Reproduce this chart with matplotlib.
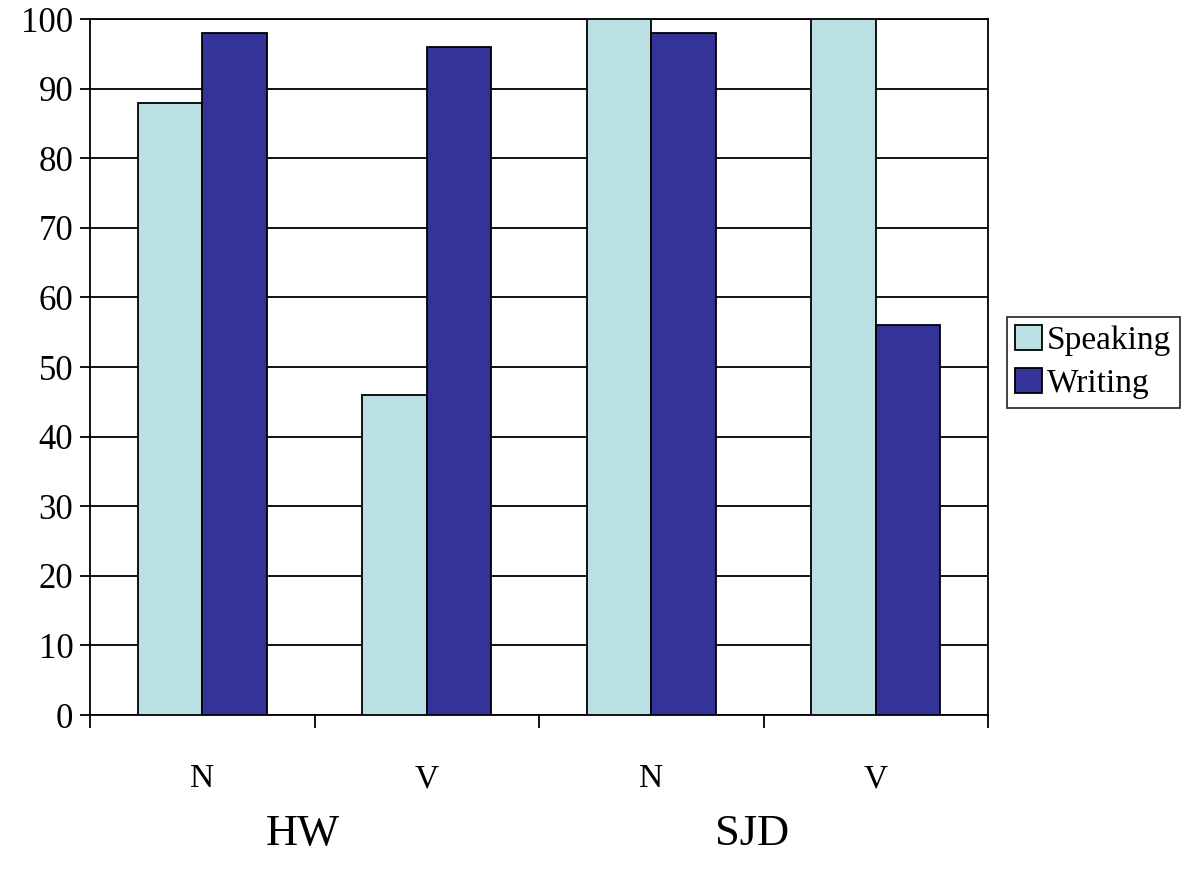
import matplotlib
matplotlib.use("Agg")
import matplotlib.pyplot as plt
import numpy as np

categories = ["N", "V", "N", "V"]
groups = ["HW", "SJD"]
speaking = [88, 46, 100, 100]
writing = [98, 96, 98, 56]

plt.rcParams['font.family'] = ['Liberation Serif', 'DejaVu Serif']

fig = plt.figure(figsize=(11.85, 8.82), dpi=100)
ax = fig.add_axes([90/1185, 1-715/882, (988-90)/1185, (715-19)/882])

x = np.arange(len(categories))
w = 0.2875
ax.set_axisbelow(True)
ax.yaxis.grid(True, color='black', linewidth=1.3)
ax.bar(x - w/2, speaking, w, color='#BBE0E3', edgecolor='black', linewidth=1.3, label='Speaking', zorder=3)
ax.bar(x + w/2, writing, w, color='#333399', edgecolor='black', linewidth=1.3, label='Writing', zorder=3)

ax.set_xlim(-0.5, len(categories) - 0.5)
ax.set_ylim(0, 100)
ax.set_yticks(np.arange(0, 101, 10))
ax.tick_params(axis='y', labelsize=25, length=7, width=1.3, direction='out', pad=5)

ax.set_xticks(np.arange(-0.5, len(categories), 1.0))
ax.set_xticklabels([])
ax.set_xticks(x, minor=True)
ax.set_xticklabels(categories, minor=True)
ax.tick_params(axis='x', which='major', length=9, width=1.3, direction='out')
ax.tick_params(axis='x', which='minor', length=0, labelsize=24, pad=35)

for s in ax.spines.values():
    s.set_linewidth(1.3)
    s.set_color('black')

for gx, g in zip([0.45, 2.45], groups):
    ax.text(gx, -17.1, g, fontsize=32, ha='center', va='center', transform=ax.transData)

leg = ax.legend(loc='center left', bbox_to_anchor=(1007/1185, 1-362/882), bbox_transform=fig.transFigure,
                fontsize=24, frameon=True, fancybox=False, edgecolor='black',
                handlelength=0.8, handleheight=0.8, handletextpad=0.15, borderpad=0.25,
                labelspacing=0.35, borderaxespad=0)
leg.get_frame().set_linewidth(1.3)

fig.savefig("out.png", dpi=100)
